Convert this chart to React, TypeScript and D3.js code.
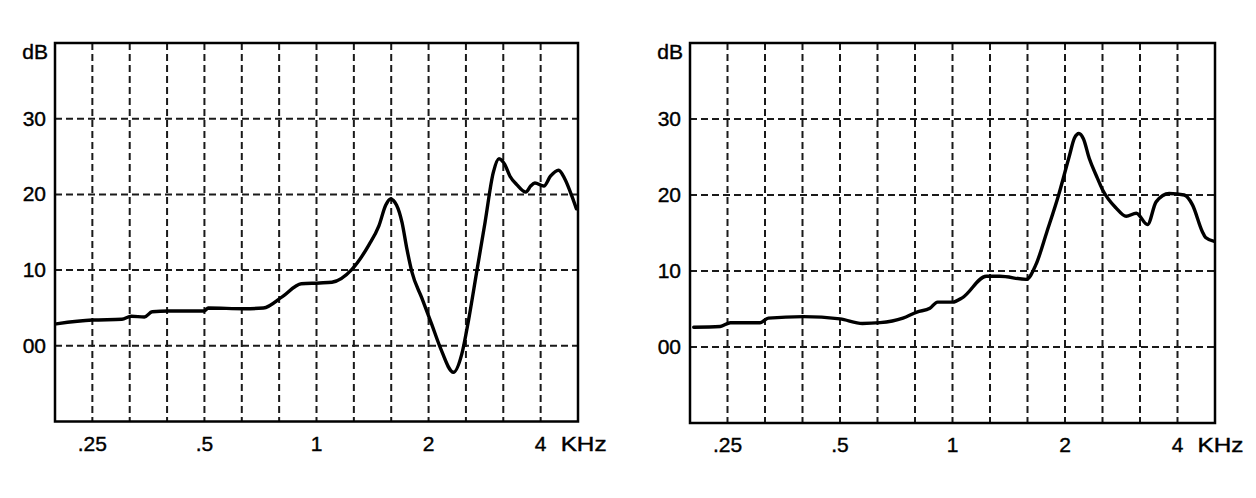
import React from "react";
import * as d3 from "d3";

// ---- Data (frequency in kHz, level in dB) ----
const leftFreq = [0.200, 0.25, 0.30, 0.318, 0.345, 0.362, 0.40, 0.50, 0.512, 0.64, 0.72, 0.81, 0.91, 1.02, 1.10, 1.245, 1.382, 1.47, 1.535, 1.58, 1.64, 1.697, 1.749, 1.803, 1.919, 2.041, 2.149, 2.333, 2.456, 2.559, 2.694, 2.836, 2.985, 3.091, 3.20, 3.309, 3.45, 3.65, 3.76, 3.86, 4.08, 4.25, 4.47, 4.65, 4.85, 4.99];
const leftDb = [2.9, 3.4, 3.5, 3.9, 3.8, 4.5, 4.6, 4.6, 5.0, 4.9, 5.0, 6.5, 8.2, 8.3, 8.4, 10.1, 13.3, 15.8, 18.6, 19.4, 18.6, 16.3, 12.8, 9.8, 6.3, 2.8, -0.2, -3.5, -1.1, 3.3, 9.8, 16.3, 22.9, 24.7, 24.0, 22.4, 21.3, 20.3, 21.1, 21.5, 21.1, 22.4, 23.2, 22.0, 19.8, 18.1];

const rightFreq = [0.203, 0.239, 0.2546, 0.3056, 0.3216, 0.3988, 0.5, 0.574, 0.64, 0.737, 0.803, 0.87, 0.912, 1.0, 1.064, 1.231, 1.338, 1.576, 1.674, 1.79, 1.923, 2.056, 2.12, 2.179, 2.24, 2.323, 2.423, 2.52, 2.738, 2.915, 3.103, 3.325, 3.506, 3.80, 4.169, 4.387, 4.659, 4.756, 5.016];
const rightDb = [2.6, 2.7, 3.2, 3.2, 3.8, 4.0, 3.7, 3.1, 3.2, 3.8, 4.6, 5.1, 5.9, 5.9, 6.5, 9.3, 9.3, 8.9, 10.9, 15.2, 20.0, 25.2, 27.5, 28.1, 27.4, 24.8, 22.6, 20.7, 18.3, 17.2, 17.6, 16.1, 19.1, 20.2, 20.0, 18.7, 15.2, 14.4, 13.9];

const xTickValues = [0.25, 0.5, 1, 2, 4];
const xTickLabels = [".25", ".5", "1", "2", "4"];
const yTickValues = [30, 20, 10, 0];
const yTickLabels = ["30", "20", "10", "00"];
const yGridValues = [0, 10, 20, 30];
const unitX = "KHz";
const unitY = "dB";

// third-octave grid lines between .25 and 4 kHz
const gridFreqs = d3.range(0, 13).map((k) => 0.25 * Math.pow(2, k / 3));
const fMin = 0.25 * Math.pow(2, -1 / 3);
const fMax = 0.25 * Math.pow(2, 13 / 3);

const FONT = "'Liberation Sans', Arial, Helvetica, sans-serif";

type PanelProps = {
  left: number;
  right: number;
  top: number;
  bottom: number;
  freq: number[];
  db: number[];
};

function Panel({ left, right, top, bottom, freq, db }: PanelProps) {
  const x = d3.scaleLog().domain([fMin, fMax]).range([left, right]);
  const y = d3.scaleLinear().domain([-10, 40]).range([bottom, top]);
  const pts: [number, number][] = freq.map((f, i) => [x(f), y(db[i])]);
  const line = d3
    .line<[number, number]>()
    .x((d) => d[0])
    .y((d) => d[1])
    .curve(d3.curveMonotoneX);
  const clipId = `clip-${left}`;
  const textProps = {
    fontFamily: FONT,
    fontSize: 21,
    fill: "#000",
    stroke: "#000",
    strokeWidth: 0.4,
  };
  return (
    <g>
      <defs>
        <clipPath id={clipId}>
          <rect x={left} y={top} width={right - left} height={bottom - top} />
        </clipPath>
      </defs>
      {gridFreqs.map((f, i) => (
        <line
          key={"v" + i}
          x1={x(f)}
          x2={x(f)}
          y1={top}
          y2={bottom}
          stroke="#1a1a1a"
          strokeWidth={2}
          strokeDasharray="7,4"
        />
      ))}
      {yGridValues.map((v, i) => (
        <line
          key={"h" + i}
          x1={left}
          x2={right}
          y1={y(v)}
          y2={y(v)}
          stroke="#1a1a1a"
          strokeWidth={2}
          strokeDasharray="7,4"
        />
      ))}
      <rect
        x={left}
        y={top}
        width={right - left}
        height={bottom - top}
        fill="none"
        stroke="#000"
        strokeWidth={2.5}
      />
      <path
        d={line(pts) || ""}
        fill="none"
        stroke="#000"
        strokeWidth={3.4}
        strokeLinejoin="round"
        strokeLinecap="round"
        clipPath={`url(#${clipId})`}
      />
      {yTickValues.map((v, i) => (
        <text key={"yl" + i} x={left - 9} y={y(v) + 7} textAnchor="end" {...textProps}>
          {yTickLabels[i]}
        </text>
      ))}
      <text x={left - 7} y={top + 16} textAnchor="end" {...textProps}>
        {unitY}
      </text>
      {xTickValues.map((v, i) => (
        <text key={"xl" + i} x={x(v)} y={bottom + 29} textAnchor="middle" {...textProps}>
          {xTickLabels[i]}
        </text>
      ))}
      <text
        x={x(4) + 20}
        y={bottom + 29}
        textAnchor="start"
        textLength={46}
        lengthAdjust="spacingAndGlyphs"
        {...textProps}
      >
        {unitX}
      </text>
    </g>
  );
}

export default function App() {
  return (
    <svg
      width={1256}
      height={498}
      viewBox="0 0 1256 498"
      style={{ position: "absolute", left: 0, top: 0, display: "block", background: "#fff" }}
    >
      <rect x={0} y={0} width={1256} height={498} fill="#fff" />
      <Panel left={55} right={578} top={43} bottom={421.5} freq={leftFreq} db={leftDb} />
      <Panel left={690} right={1215} top={43} bottom={423} freq={rightFreq} db={rightDb} />
    </svg>
  );
}
